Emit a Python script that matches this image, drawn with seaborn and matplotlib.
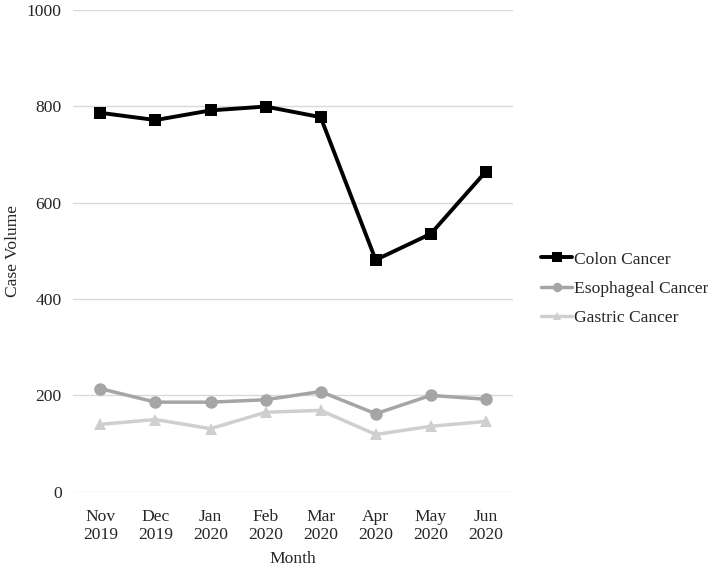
import numpy as np
import pandas as pd
import matplotlib.pyplot as plt
import seaborn as sns

# values
months = ["Nov\n2019", "Dec\n2019", "Jan\n2020", "Feb\n2020",
          "Mar\n2020", "Apr\n2020", "May\n2020", "Jun\n2020"]
colon = [786, 771, 791, 799, 777, 481, 535, 664]
esophageal = [214, 186, 186, 191, 208, 162, 200, 192]
gastric = [140, 150, 131, 165, 169, 119, 136, 146]

series = {"Colon Cancer": colon, "Esophageal Cancer": esophageal, "Gastric Cancer": gastric}
df = pd.concat([pd.DataFrame({"month": months, "volume": v, "cancer": k})
                for k, v in series.items()], ignore_index=True)

sns.set_style("white")
plt.rcParams["font.family"] = ["Liberation Serif", "DejaVu Serif"]
fs = 12.6

fig = plt.figure(figsize=(7.08, 5.66), dpi=100)
ax = fig.add_axes([0.103, 0.131, 0.622, 0.852])

palette = {"Colon Cancer": "#000000", "Esophageal Cancer": "#a5a5a5", "Gastric Cancer": "#cfcfcf"}
markers = {"Colon Cancer": "s", "Esophageal Cancer": "o", "Gastric Cancer": "^"}
sizes = {"Colon Cancer": 9, "Esophageal Cancer": 9, "Gastric Cancer": 8}

for name in series:
    sub = df[df["cancer"] == name]
    sns.lineplot(data=sub, x="month", y="volume", color=palette[name],
                 marker=markers[name], markersize=sizes[name], markeredgewidth=0,
                 linewidth=2.8 if name == "Colon Cancer" else 2.5,
                 label=name, ax=ax, sort=False, zorder=3)

ax.set_ylim(0, 1000)
ax.set_xlim(-0.5, len(months) - 0.5)
ax.set_yticks(np.arange(0, 1001, 200))
ax.yaxis.grid(True, color="#d9d9d9", linewidth=1)
ax.xaxis.grid(False)
for s in ax.spines.values():
    s.set_visible(False)
ax.tick_params(axis="y", length=0, labelsize=fs, pad=8)
ax.tick_params(axis="x", length=0, labelsize=fs, pad=12)
for t in ax.get_xticklabels():
    t.set_linespacing(1.2)
ax.set_xlabel("Month", fontsize=fs, labelpad=6)
ax.set_ylabel("Case Volume", fontsize=fs)
ax.yaxis.set_label_coords(-0.118, 0.5)

ax.legend(loc="center left", bbox_to_anchor=(1.035, 0.421), frameon=False,
          fontsize=fs, handlelength=1.8, handletextpad=0.1, labelspacing=0.75,
          markerscale=0.75, borderaxespad=0.3)

fig.savefig("out.png", dpi=100)
